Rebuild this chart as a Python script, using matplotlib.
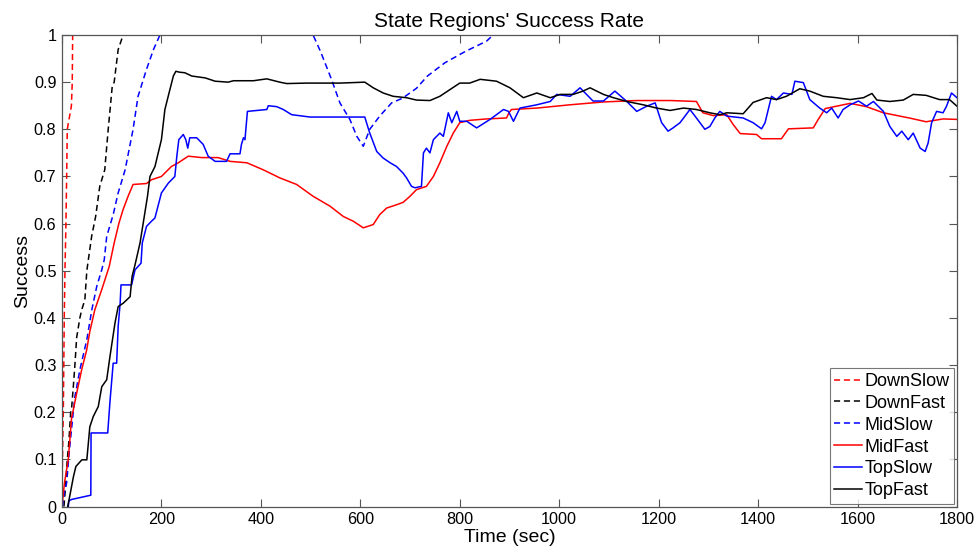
import matplotlib
matplotlib.use("Agg")
import matplotlib.pyplot as plt

plt.rcParams['font.family'] = ['Liberation Sans', 'DejaVu Sans']

# Success-rate traces per state region (time in seconds, success fraction)
down_slow_t = [0, 1, 2.7, 4.6, 6, 8, 9.4, 10.7, 14, 17.4, 19, 20.7, 21.5, 23]
down_slow_y = [0, 0.1, 0.2, 0.4, 0.5, 0.6, 0.7, 0.8, 0.82, 0.84, 0.85, 0.9, 1.0, 1.05]

down_fast_t = [4, 7, 10, 14, 17.5, 19.5, 22.8, 26, 29.5, 36, 39.6, 46, 50, 53, 59.7,
               67.7, 76, 86, 93, 101, 105, 113, 123, 128]
down_fast_y = [0, 0.04, 0.09, 0.14, 0.2, 0.21, 0.254, 0.3, 0.358, 0.4, 0.417, 0.438,
               0.5, 0.523, 0.573, 0.615, 0.679, 0.714, 0.8, 0.89, 0.9, 0.969, 1.0, 1.04]

mid_slow_t = [1, 5, 9.4, 15, 22.7, 26, 36, 50, 60, 70, 80, 85, 90, 103, 113, 127, 143,
              153, 170, 184, 197, 210, 495, 505, 520, 542, 559, 579, 593, 606, 619, 639,
              663, 685, 713, 735, 770, 811, 854, 867, 880]
mid_slow_y = [0, 0.03, 0.05, 0.12, 0.2, 0.233, 0.29, 0.354, 0.417, 0.467, 0.502, 0.523,
              0.573, 0.619, 0.665, 0.714, 0.8, 0.87, 0.927, 0.969, 1.0, 1.04, 1.04, 1.0,
              0.965, 0.906, 0.856, 0.821, 0.785, 0.764, 0.8, 0.828, 0.856, 0.866, 0.887,
              0.913, 0.941, 0.965, 0.987, 1.0, 1.02]

mid_fast_t = [0, 5, 12.7, 19.5, 22.8, 29.5, 39.6, 49.7, 56, 66, 80, 95, 105, 114.6, 123,
              133, 143, 170, 180, 200, 220, 234, 254, 281, 314, 338, 372, 405, 438, 472,
              505, 539, 566, 586, 606, 626, 639, 653, 673, 686, 700, 713, 733, 747, 760,
              774, 787, 800, 820, 854, 894, 899, 904, 955, 1022, 1089, 1156, 1223, 1276,
              1289, 1310, 1337, 1350, 1364, 1397, 1407, 1447, 1461, 1511, 1521, 1535,
              1585, 1618, 1652, 1704, 1738, 1772, 1800]
mid_fast_y = [0, 0.05, 0.1, 0.19, 0.205, 0.24, 0.29, 0.332, 0.371, 0.417, 0.46, 0.509,
              0.559, 0.601, 0.63, 0.658, 0.683, 0.685, 0.693, 0.7, 0.721, 0.729, 0.743,
              0.74, 0.74, 0.732, 0.729, 0.714, 0.697, 0.683, 0.658, 0.637, 0.615, 0.605,
              0.591, 0.598, 0.619, 0.633, 0.64, 0.645, 0.658, 0.672, 0.679, 0.7, 0.729,
              0.764, 0.792, 0.814, 0.819, 0.822, 0.824, 0.835, 0.842, 0.845, 0.852,
              0.858, 0.861, 0.861, 0.859, 0.835, 0.829, 0.831, 0.81, 0.791, 0.789, 0.78,
              0.78, 0.801, 0.803, 0.821, 0.844, 0.855, 0.848, 0.835, 0.824, 0.816,
              0.822, 0.821]

top_slow_t = [12.7, 14, 19.5, 58, 58.5, 92, 96.5, 103, 110, 113, 117, 118.7, 140, 147,
              159, 161.5, 170, 180, 187, 200, 214, 227, 231, 235, 244, 249, 253, 257, 271,
              284, 294, 308, 331, 338, 358, 361, 365, 368, 373, 412, 415, 432, 445, 462,
              499, 609, 619, 633, 646, 660, 673, 686, 693, 703, 710, 723, 727, 733, 740,
              747, 760, 767, 777, 784, 794, 800, 814, 834, 861, 888, 898, 908, 921, 955,
              982, 995, 1022, 1042, 1068, 1089, 1112, 1136, 1156, 1176, 1193, 1206, 1219,
              1229, 1243, 1263, 1276, 1293, 1303, 1313, 1323, 1337, 1370, 1390, 1407,
              1414, 1427, 1437, 1451, 1468, 1474, 1491, 1504, 1524, 1538, 1548, 1561,
              1571, 1585, 1602, 1618, 1632, 1652, 1665, 1679, 1689, 1702, 1712, 1726,
              1736, 1742, 1749, 1759, 1772, 1779, 1789, 1800]
top_slow_y = [0, 0.012, 0.015, 0.024, 0.156, 0.156, 0.222, 0.304, 0.304, 0.382, 0.431,
              0.47, 0.47, 0.502, 0.516, 0.559, 0.594, 0.605, 0.612, 0.665, 0.686, 0.7,
              0.743, 0.778, 0.789, 0.778, 0.76, 0.782, 0.782, 0.768, 0.743, 0.732, 0.732,
              0.748, 0.748, 0.768, 0.782, 0.778, 0.838, 0.842, 0.85, 0.848, 0.842, 0.831,
              0.826, 0.826, 0.792, 0.753, 0.739, 0.729, 0.721, 0.707, 0.697, 0.679, 0.676,
              0.679, 0.75, 0.76, 0.75, 0.778, 0.792, 0.785, 0.835, 0.814, 0.838, 0.817,
              0.817, 0.803, 0.821, 0.842, 0.838, 0.817, 0.845, 0.852, 0.859, 0.874, 0.87,
              0.888, 0.86, 0.86, 0.881, 0.859, 0.838, 0.849, 0.856, 0.814, 0.796, 0.803,
              0.814, 0.842, 0.824, 0.8, 0.806, 0.824, 0.838, 0.828, 0.824, 0.814, 0.801,
              0.814, 0.87, 0.863, 0.877, 0.874, 0.902, 0.899, 0.863, 0.845, 0.835, 0.845,
              0.824, 0.842, 0.852, 0.86, 0.849, 0.859, 0.838, 0.806, 0.785, 0.796, 0.778,
              0.792, 0.76, 0.753, 0.771, 0.814, 0.838, 0.835, 0.849, 0.877, 0.867]

top_fast_t = [11.5, 16, 23, 28, 40, 50, 56, 63, 73, 80, 90, 96.5, 106.6, 113, 123, 137,
              141, 147, 157, 165.5, 172, 177, 187, 192, 200, 207, 217, 224, 229, 237, 247,
              261, 288, 308, 334, 345, 385, 412, 438, 452, 492, 559, 609, 626, 646, 666,
              693, 713, 740, 760, 780, 800, 820, 841, 874, 901, 928, 955, 982, 1002, 1028,
              1048, 1062, 1089, 1109, 1136, 1169, 1196, 1223, 1250, 1276, 1303, 1323,
              1337, 1370, 1380, 1390, 1417, 1437, 1457, 1484, 1504, 1531, 1558, 1585,
              1612, 1629, 1639, 1665, 1692, 1712, 1738, 1765, 1785, 1800]
top_fast_y = [0, 0.024, 0.063, 0.085, 0.099, 0.099, 0.169, 0.191, 0.212, 0.254, 0.269,
              0.318, 0.389, 0.424, 0.431, 0.445, 0.488, 0.513, 0.559, 0.615, 0.658, 0.7,
              0.721, 0.743, 0.778, 0.842, 0.884, 0.913, 0.923, 0.921, 0.92, 0.913, 0.909,
              0.902, 0.9, 0.903, 0.903, 0.907, 0.9, 0.897, 0.898, 0.898, 0.9, 0.888,
              0.877, 0.87, 0.867, 0.862, 0.861, 0.87, 0.884, 0.898, 0.898, 0.906, 0.902,
              0.888, 0.867, 0.877, 0.867, 0.874, 0.874, 0.881, 0.888, 0.874, 0.867, 0.859,
              0.852, 0.845, 0.84, 0.845, 0.842, 0.835, 0.831, 0.835, 0.833, 0.845, 0.857,
              0.867, 0.863, 0.87, 0.886, 0.881, 0.87, 0.867, 0.863, 0.867, 0.876, 0.862,
              0.859, 0.862, 0.874, 0.872, 0.863, 0.863, 0.849]

x_ticks = [0, 200, 400, 600, 800, 1000, 1200, 1400, 1600, 1800]
y_ticks = [0, 0.1, 0.2, 0.3, 0.4, 0.5, 0.6, 0.7, 0.8, 0.9, 1]
y_tick_labels = ['0', '0.1', '0.2', '0.3', '0.4', '0.5', '0.6', '0.7', '0.8', '0.9', '1']

RED = '#ff0000'
BLUE = '#0000ff'
BLACK = '#000000'
DASH = (4.0, 2.5)

fig = plt.figure(figsize=(9.79, 5.52), dpi=100)
ax = fig.add_axes([0.0633, 0.0824, 0.9142, 0.8542])

series = [
    (down_slow_t, down_slow_y, RED, True, 'DownSlow'),
    (down_fast_t, down_fast_y, BLACK, True, 'DownFast'),
    (mid_slow_t, mid_slow_y, BLUE, True, 'MidSlow'),
    (mid_fast_t, mid_fast_y, RED, False, 'MidFast'),
    (top_slow_t, top_slow_y, BLUE, False, 'TopSlow'),
    (top_fast_t, top_fast_y, BLACK, False, 'TopFast'),
]
for t, y, color, dashed, label in series:
    line, = ax.plot(t, y, color=color, lw=1.1, label=label)
    if dashed:
        line.set_dashes(DASH)

ax.set_xlim(0, 1800)
ax.set_ylim(0, 1)
ax.set_xticks(x_ticks)
ax.set_yticks(y_ticks)
ax.set_yticklabels(y_tick_labels)
ax.tick_params(direction='in', length=6, width=0.8, color='#555555',
               labelsize=11.7, top=True, right=True, pad=4)
for spine in ax.spines.values():
    spine.set_color('#555555')
    spine.set_linewidth(0.9)

ax.set_title("State Regions' Success Rate", fontsize=15, pad=6)
ax.set_xlabel('Time (sec)', fontsize=14, labelpad=1.5)
ax.set_ylabel('Success', fontsize=14, labelpad=2)

leg = ax.legend(loc='lower right', fontsize=13, frameon=True, fancybox=False,
                handlelength=1.55, handletextpad=0.12, borderpad=0.25,
                labelspacing=0.27, borderaxespad=0.15)
leg.get_frame().set_edgecolor('#555555')
leg.get_frame().set_linewidth(0.8)

fig.savefig('out.png', dpi=100)
